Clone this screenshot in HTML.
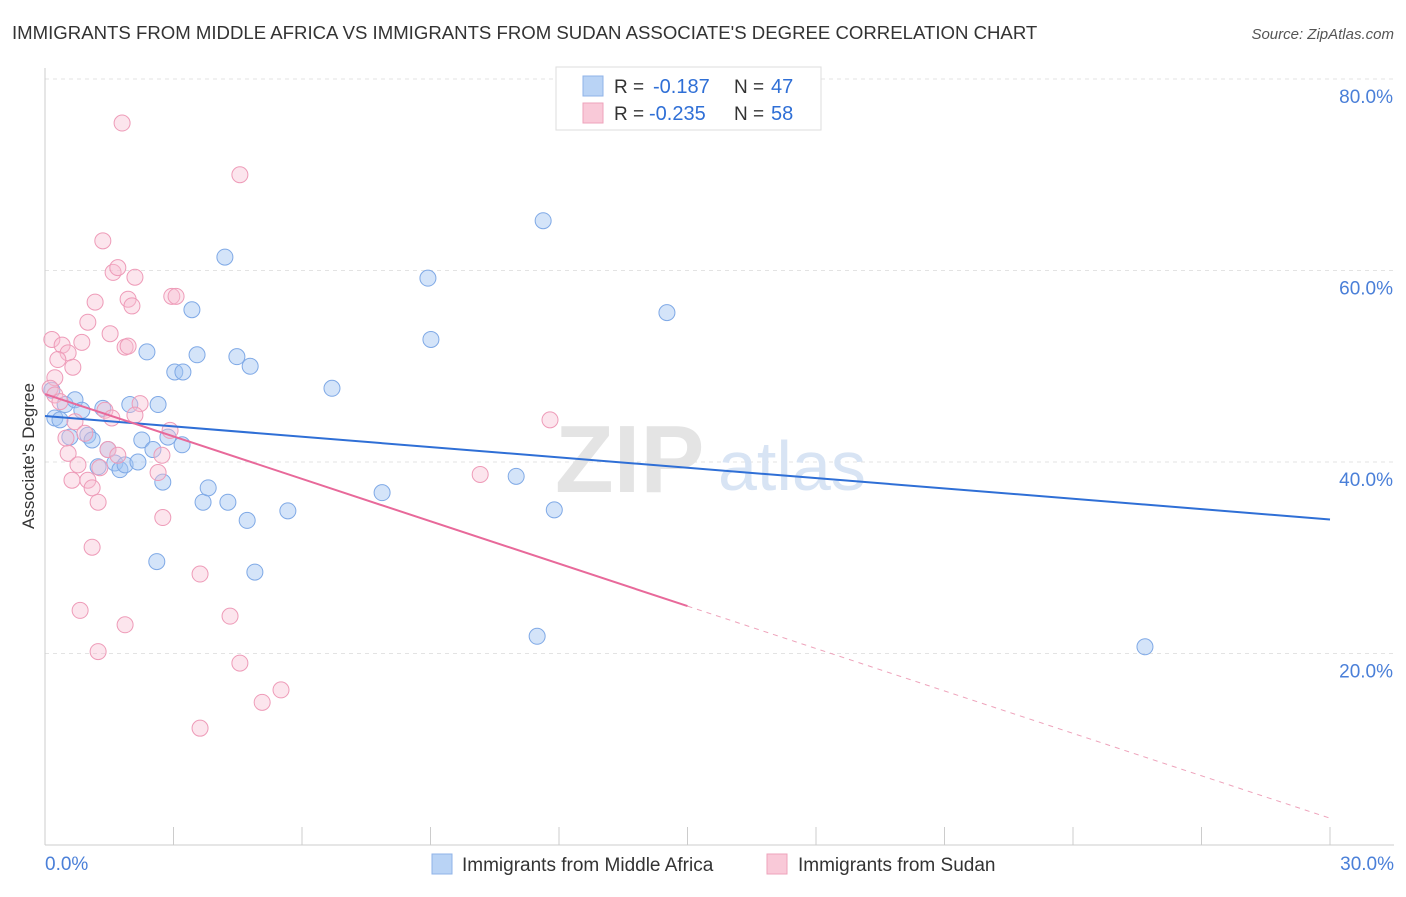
<!DOCTYPE html>
<html><head><meta charset="utf-8"><style>
body{margin:0;background:#fff;font-family:"Liberation Sans",sans-serif;}
svg text{font-family:"Liberation Sans",sans-serif;}
</style></head><body>
<svg width="1406" height="892" viewBox="0 0 1406 892">
<text x="12" y="39" font-size="18.6" fill="#333">IMMIGRANTS FROM MIDDLE AFRICA VS IMMIGRANTS FROM SUDAN ASSOCIATE'S DEGREE CORRELATION CHART</text>
<text x="1394" y="39" font-size="15" fill="#555" font-style="italic" text-anchor="end">Source: ZipAtlas.com</text>
<g id="grid"></g>
<g id="axes"></g>
<text x="555" y="492" font-size="96" fill="#e4e4e4" font-family="Liberation Serif" font-weight="bold">ZIP</text>
<text x="718" y="490" font-size="70" fill="#d8e4f4">atlas</text>
<g id="pts"></g>
<g id="lines"></g>
<text transform="translate(34,456) rotate(-90)" font-size="17" fill="#333" text-anchor="middle">Associate's Degree</text>
<g>
<rect x="556" y="67" width="265" height="63" fill="#fff" stroke="#ddd"/>
<rect x="583" y="76" width="20" height="20" fill="#b9d3f5" stroke="#8fb3e8"/>
<rect x="583" y="103" width="20" height="20" fill="#f9c9d8" stroke="#eea3bb"/>
<text x="614" y="93" font-size="19" fill="#333">R =</text>
<text x="653" y="93" font-size="20" fill="#2f6fd6">-0.187</text>
<text x="734" y="93" font-size="19" fill="#333">N =</text>
<text x="771" y="93" font-size="20" fill="#2f6fd6">47</text>
<text x="614" y="120" font-size="19" fill="#333">R =</text>
<text x="649" y="120" font-size="20" fill="#2f6fd6">-0.235</text>
<text x="734" y="120" font-size="19" fill="#333">N =</text>
<text x="771" y="120" font-size="20" fill="#2f6fd6">58</text>
</g>
<g>
<rect x="432" y="854" width="20" height="20" fill="#b9d3f5" stroke="#8fb3e8"/>
<text x="462" y="871" font-size="19" fill="#333">Immigrants from Middle Africa</text>
<rect x="767" y="854" width="20" height="20" fill="#f9c9d8" stroke="#eea3bb"/>
<text x="798" y="871" font-size="19" fill="#333">Immigrants from Sudan</text>
</g>
</svg>
<script>
const blueX=[0.16,0.23,0.35,0.47,0.70,0.86,0.58,1.00,1.10,1.24,1.35,1.47,1.63,1.75,1.87,1.98,2.17,2.26,2.38,2.52,2.64,2.75,2.87,3.03,3.20,3.22,3.43,3.55,3.69,3.81,4.20,4.27,4.48,4.72,4.79,4.90,5.67,2.61,6.70,7.87,8.94,9.01,11.0,11.63,11.89,11.49,14.52,25.68];
const blueY=[47.5,44.6,44.4,46.0,46.5,45.4,42.6,42.8,42.3,39.5,45.6,41.3,39.9,39.2,39.7,46.0,40.0,42.3,51.5,41.3,46.0,37.9,42.6,49.4,41.8,49.4,55.9,51.2,35.8,37.3,61.4,35.8,51.0,33.9,50.0,28.5,34.9,29.6,47.7,36.8,59.2,52.8,38.5,65.2,35.0,21.8,55.6,20.7];
const pinkX=[1.80,4.55,1.35,1.59,1.70,2.10,2.96,3.06,1.17,1.94,2.03,1.00,1.52,0.16,0.40,0.86,1.87,1.94,0.54,0.30,0.65,0.23,0.12,0.23,0.35,2.22,1.40,1.56,2.10,0.70,0.49,0.93,1.47,1.70,0.54,0.77,1.28,0.63,1.00,1.10,1.24,2.64,2.92,2.73,2.75,1.10,3.62,0.82,4.32,1.87,1.24,4.55,5.51,5.07,3.62,10.16,11.79];
const pinkY=[75.4,70.0,63.1,59.8,60.3,59.3,57.3,57.3,56.7,57.0,56.3,54.6,53.4,52.8,52.2,52.5,52.0,52.1,51.4,50.7,49.9,48.8,47.7,47.0,46.3,46.1,45.4,44.6,44.9,44.2,42.5,43.0,41.3,40.7,40.9,39.7,39.4,38.1,38.1,37.3,35.8,38.9,43.3,40.7,34.2,31.1,28.3,24.5,23.9,23.0,20.2,19.0,16.2,14.9,12.2,38.7,44.4];
const blueTrend=[44.8,34.0];
const pinkTrend=[47.1,2.8];
const yTicks=[20,40,60,80];
const xTickLabels=["0.0%","30.0%"];
const NS="http://www.w3.org/2000/svg";
const X0=45,X1=1330,Y0=845,Y80=79;
const sx=v=>X0+(v/30)*(X1-X0);
const sy=v=>Y0-(v/80)*(Y0-Y80);
function mk(tag,attrs,parent){const e=document.createElementNS(NS,tag);for(const k in attrs)e.setAttribute(k,attrs[k]);parent.appendChild(e);return e;}
const grid=document.getElementById('grid'),axes=document.getElementById('axes'),pts=document.getElementById('pts'),lines=document.getElementById('lines');
yTicks.forEach(t=>{
 const l=mk('line',{x1:X0,x2:1394,y1:sy(t),y2:sy(t),stroke:'#e3e3e3','stroke-dasharray':'4,4'},grid);
 
 
 const tx=mk('text',{x:1393,y:sy(t)+24,'font-size':19,fill:'#4a7fd8','text-anchor':'end'},axes);
 tx.textContent=t.toFixed(1)+'%';
 
 
});
const xa=mk('line',{x1:X0,x2:1394,y1:Y0,y2:Y0,stroke:'#ccc'},axes);


const ya=mk('line',{x1:X0,x2:X0,y1:68,y2:Y0,stroke:'#ccc'},axes);


for(let i=0;i<=10;i++){
 const t=mk('line',{x1:sx(i*3),x2:sx(i*3),y1:Y0,y2:Y0-18,stroke:'#ccc'},axes);
 
 
}
[[0,'start',X0],[1,'end',1394]].forEach(([i,a,x])=>{
 const tx=mk('text',{x:x,y:870,'font-size':19,fill:'#4a7fd8','text-anchor':a},axes);
 tx.textContent=xTickLabels[i];
 
 
});
blueX.forEach((v,i)=>{
 const c=mk('circle',{cx:sx(v),cy:sy(blueY[i]),r:8,fill:'rgba(160,196,242,0.45)',stroke:'#7fa9e6','stroke-width':1},pts);
 
 
});
pinkX.forEach((v,i)=>{
 const c=mk('circle',{cx:sx(v),cy:sy(pinkY[i]),r:8,fill:'rgba(248,190,210,0.4)',stroke:'#ee9bb8','stroke-width':1},pts);
 
 
});
const bl=mk('line',{x1:sx(0),y1:sy(blueTrend[0]),x2:sx(30),y2:sy(blueTrend[1]),stroke:'#2f6fd6','stroke-width':2},lines);


const pm=pinkTrend[0]+(pinkTrend[1]-pinkTrend[0])*0.5;
const pl=mk('line',{x1:sx(0),y1:sy(pinkTrend[0]),x2:sx(15),y2:sy(pm),stroke:'#e8699a','stroke-width':2},lines);


const pd=mk('line',{x1:sx(15),y1:sy(pm),x2:sx(30),y2:sy(pinkTrend[1]),stroke:'#eea3bb','stroke-width':1,'stroke-dasharray':'5,5'},lines);


</script>
</body></html>
